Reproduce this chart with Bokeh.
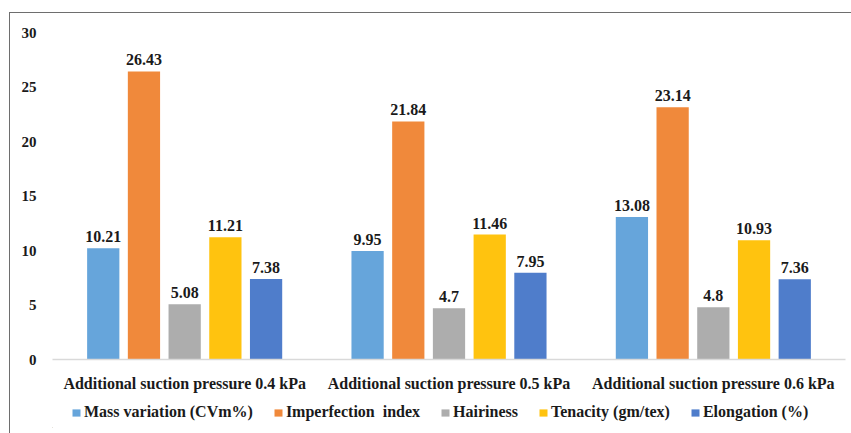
from bokeh.plotting import figure
from bokeh.layouts import column
from bokeh.models import ColumnDataSource, FactorRange, Range1d, FixedTicker, Legend, LegendItem
from bokeh.transform import dodge
from bokeh.core.properties import value
from bokeh.embed import file_html
from bokeh.resources import INLINE

groups = ["Additional suction pressure 0.4 kPa",
          "Additional suction pressure 0.5 kPa",
          "Additional suction pressure 0.6 kPa"]
series = ["Mass variation (CVm%)", "Imperfection  index", "Hairiness",
          "Tenacity (gm/tex)", "Elongation (%)"]
mass_variation = [10.21, 9.95, 13.08]
imperfection_index = [26.43, 21.84, 23.14]
hairiness = [5.08, 4.7, 4.8]
tenacity = [11.21, 11.46, 10.93]
elongation = [7.38, 7.95, 7.36]
y_ticks = [0, 5, 10, 15, 20, 25, 30]

values_by_series = [mass_variation, imperfection_index, hairiness, tenacity, elongation]
colors = ["#66A5DB", "#F0893B", "#ADADAD", "#FFC30F", "#4F7DCB"]
offsets = [-0.308, -0.154, 0.0, 0.154, 0.308]
bar_w = 0.122
FONT = "Liberation Serif"
INK = "#1a1a1a"
EDGE = "#6e6e6e"

p = figure(width=851, height=400, x_range=FactorRange(*groups), y_range=Range1d(0, 30),
           output_backend="svg", toolbar_location=None,
           min_border_left=52, min_border_right=6, min_border_top=32, min_border_bottom=41)
p.border_fill_color = None
p.styles = {
    "background-color": "white",
    "background-image": f"linear-gradient({EDGE}, {EDGE}), linear-gradient({EDGE}, {EDGE})",
    "background-size": "842px 1px, 1px 388px",
    "background-position": "9px 12px, 9px 12px",
    "background-repeat": "no-repeat",
}
p.outline_line_color = None
p.xgrid.grid_line_color = None
p.ygrid.grid_line_color = None

for name, vals, col, off in zip(series, values_by_series, colors, offsets):
    src = ColumnDataSource(dict(g=groups, v=vals, lab=[f"{v:g}" for v in vals]))
    p.vbar(x=dodge("g", off, range=p.x_range), top="v", width=bar_w, source=src,
           fill_color=col, line_color=None)
    p.text(x=dodge("g", off, range=p.x_range), y="v", text="lab", source=src,
           text_align="center", text_baseline="bottom", y_offset=-6,
           text_font=value(FONT), text_font_style="bold", text_font_size="16px",
           text_color=INK)

p.yaxis.ticker = FixedTicker(ticks=y_ticks)
p.yaxis.axis_line_color = None
p.yaxis.major_tick_line_color = None
p.yaxis.minor_tick_line_color = None
p.yaxis.major_label_standoff = 10
p.yaxis.major_label_text_font = FONT
p.yaxis.major_label_text_font_style = "bold"
p.yaxis.major_label_text_font_size = "15px"
p.yaxis.major_label_text_color = INK

p.xaxis.axis_line_color = "#d9d9d9"
p.xaxis.axis_line_width = 1.5
p.xaxis.major_tick_line_color = None
p.xaxis.minor_tick_line_color = None
p.xaxis.major_label_standoff = 9
p.xaxis.major_label_text_font = FONT
p.xaxis.major_label_text_font_style = "bold"
p.xaxis.major_label_text_font_size = "16px"
p.xaxis.major_label_text_color = INK

# legend strip below the chart (proxy renderers sit outside the visible range)
q = figure(width=851, height=33, x_range=Range1d(0, 1), y_range=Range1d(0, 1),
           output_backend="svg", toolbar_location=None,
           min_border_left=10, min_border_right=0, min_border_top=0, min_border_bottom=6)
q.border_fill_color = None
q.background_fill_color = None
q.outline_line_color = None
q.axis.visible = False
q.grid.grid_line_color = None
q.styles = {
    "background-color": "white",
    "background-image": f"linear-gradient({EDGE}, {EDGE})",
    "background-size": "1px 33px",
    "background-position": "9px 0px",
    "background-repeat": "no-repeat",
}
items = []
for name, col in zip(series, colors):
    r = q.vbar(x=[-5.0], top=[-5.0], bottom=[-6.0], width=0.1, fill_color=col, line_color=None)
    items.append(LegendItem(label=name, renderers=[r]))

legend = Legend(items=items, orientation="horizontal", location=(19, 6),
                glyph_width=10, glyph_height=9, label_standoff=3, spacing=20,
                label_height=16, padding=0, margin=0,
                border_line_color=None, background_fill_alpha=0,
                label_text_font=FONT, label_text_font_style="bold",
                label_text_font_size="16px", label_text_color=INK)
q.add_layout(legend, "center")

layout = column(p, q, spacing=0)
open("out.html", "w").write(file_html(layout, INLINE))
